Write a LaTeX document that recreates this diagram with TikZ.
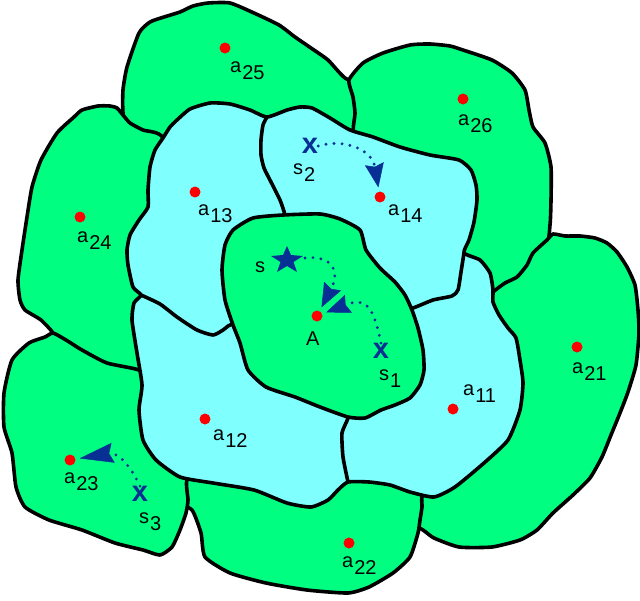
\documentclass[tikz,border=0pt]{standalone}
\usepackage{fontspec}
\setmainfont{Liberation Sans}
\usetikzlibrary{arrows.meta}
\definecolor{grn}{RGB}{0,255,128}
\definecolor{cyn}{RGB}{128,255,255}
\definecolor{navy}{RGB}{8,48,148}
\newcommand\lblsub[2]{#1\kern1pt\raisebox{-7pt}{#2}}
\begin{document}
\begin{tikzpicture}[x=1pt,y=-1pt,
  region/.style={line width=3.6pt, line join=round, draw=black},
  outer/.style={region, fill=grn},
  inner/.style={region, fill=cyn},
  divider/.style={line width=3.6pt, line cap=round, line join=round},
  dot/.style={circle, fill=red, inner sep=0pt, minimum size=11pt},
  lbl/.style={font=\fontsize{20}{20}\selectfont, inner sep=0pt, anchor=base west},
  xmark/.style={font=\fontsize{29}{29}\selectfont\bfseries, text=navy, inner sep=0pt},
  dotarrow/.style={navy, line width=3.2pt, line cap=round, dash pattern=on 0pt off 8pt,
    -{Stealth[length=24pt,width=19pt,inset=3pt,line width=0.5pt]}, shorten >=4pt},
  longarrow/.style={dotarrow, -{Stealth[length=34pt,width=20pt,inset=4pt,line width=0.5pt]}},
]
\useasboundingbox (0,0) rectangle (640,600);
\fill[white] (0,0) rectangle (640,600);

% a25 (top)
\draw[outer] plot[smooth cycle, tension=0.35] coordinates {(123,113) (123,90) (127,67) (139,33) (150,22) (164,17) (180,12) (193,6) (208,3) (230,3) (254,13) (279,25) (295,37) (311,48) (328,60) (345,78) (375,95) (375,145) (250,150) (165,150) (128,128)};
% a24 (left)
\draw[outer] plot[smooth cycle, tension=0.35] coordinates {(74,117) (82,110) (98,106) (110,106) (117,108) (123,115) (130,123) (143,130) (163,138) (175,200) (160,300) (150,365) (139,380) (55,345) (53,333) (41,320) (25,310) (20,300) (18,280) (22,250) (27,217) (32,187) (41,160) (57,133)};
% a26 (top right)
\draw[outer] plot[smooth cycle, tension=0.35] coordinates {(349,80) (363,63) (383,53) (410,45) (430,44) (450,46) (463,50) (492,60) (512,73) (525,90) (529,110) (533,127) (545,143) (551,167) (551,200) (550,225) (545,250) (505,300) (460,262) (400,162) (355,140) (355,113) (353,97)};
% a21 (right)
\draw[outer] plot[smooth cycle, tension=0.35] coordinates {(493,292) (505,283) (517,277) (527,265) (533,253) (547,240) (553,234) (565,236) (580,236) (595,238) (607,243) (617,252) (627,267) (635,285) (638,310) (639,333) (636,365) (628,392) (620,413) (611,435) (602,457) (590,478) (573,495) (553,513) (537,530) (520,540) (492,547) (459,547) (434,538) (423,530) (400,515) (400,480) (480,420) (480,305)};
% a22 (bottom)
\draw[outer] plot[smooth cycle, tension=0.35] coordinates {(430,480) (422,497) (422,507) (420,520) (418,533) (410,557) (393,573) (369,587) (348,593) (307,590) (266,583) (230,573) (205,557) (201,533) (192,510) (175,500) (178,470) (300,470)};
% a23 (bottom left)
\draw[outer] plot[smooth cycle, tension=0.35] coordinates {(53,333) (45,337) (29,343) (12,360) (4,393) (4,427) (12,453) (16,487) (25,507) (49,520) (82,530) (115,543) (143,550) (160,555) (172,547) (180,530) (186,513) (188,500) (187,480) (205,465) (165,385) (139,370) (107,363) (82,350) (66,340)};

% cyan ring (a13, a14, a11, a12)
\draw[inner] plot[smooth cycle, tension=0.35] coordinates {(163,138) (170,127) (177,120) (190,109) (210,103) (230,104) (250,110) (267,117) (287,110) (300,107) (312,108) (330,118) (350,130) (373,137) (400,147) (430,155) (459,160) (471,170) (476,185) (477,200) (474,222) (469,240) (464,253) (480,260) (490,273) (493,290) (493,302) (499,315) (508,328) (516,338) (520,360) (523,383) (520,410) (508,440) (484,463) (455,487) (434,497) (410,492) (390,485) (369,482) (348,482) (338,490) (328,500) (311,507) (287,503) (254,490) (213,483) (180,477) (156,460) (143,440) (139,410) (142,385) (137,353) (132,320) (134,303) (141,295) (133,287) (128,265) (127,250) (130,235) (139,220) (148,207) (148,190) (150,167) (155,150)};
\draw[divider] plot[smooth, tension=0.35] coordinates {(267,117) (263,125) (261,140) (261,155) (264,168) (271,182) (280,200) (285,215) (288,235)};
\draw[divider] plot[smooth, tension=0.35] coordinates {(141,295) (160,304) (177,317) (197,330) (213,335) (223,330) (230,325) (245,322)};
\draw[divider] plot[smooth, tension=0.35] coordinates {(350,400) (348,418) (342,433) (343,457) (348,482)};
\draw[divider] plot[smooth, tension=0.35] coordinates {(464,253) (461,272) (458,290) (452,296) (433,300) (413,308) (395,312)};

% centre region A
\draw[outer] plot[smooth cycle, tension=0.35] coordinates {(233,230) (253,218) (283,215) (320,214) (340,219) (360,230) (366,250) (380,268) (395,282) (405,295) (412,310) (418,328) (423,350) (424,370) (420,385) (410,398) (395,405) (381,410) (365,418) (348,417) (320,407) (295,397) (266,387) (248,370) (240,343) (233,325) (225,300) (222,270) (225,245)};

% points
\node[dot] (a25) at (225,48) {};
\node[dot] (a26) at (463,99) {};
\node[dot] (a13) at (195,192) {};
\node[dot] (a14) at (380,197) {};
\node[dot] (a24) at (80,217) {};
\node[dot] (A) at (317,316) {};
\node[dot] (a21) at (577,347) {};
\node[dot] (a11) at (453,409) {};
\node[dot] (a12) at (205,419) {};
\node[dot] (a23) at (70,460) {};
\node[dot] (a22) at (349,543) {};

% labels
\node[lbl] (la25) at (230,72) {\lblsub{a}{25}};
\node[lbl] (la26) at (458,125) {\lblsub{a}{26}};
\node[lbl] (la13) at (198,215) {\lblsub{a}{13}};
\node[lbl] (la14) at (388,215) {\lblsub{a}{14}};
\node[lbl] (la24) at (77,242) {\lblsub{a}{24}};
\node[lbl] (la21) at (572,373) {\lblsub{a}{21}};
\node[lbl] (la11) at (463,395) {\lblsub{a}{11}};
\node[lbl] (la12) at (213,440) {\lblsub{a}{12}};
\node[lbl] (la23) at (64,483) {\lblsub{a}{23}};
\node[lbl] (la22) at (342,567) {\lblsub{a}{22}};
\node[lbl] (lA) at (306,345) {A};
\node[lbl] (ls) at (255,272) {s};
\node[lbl] (ls1) at (379,380) {\lblsub{s}{1}};
\node[lbl] (ls2) at (293,174) {\lblsub{s}{2}};
\node[lbl] (ls3) at (139,523) {\lblsub{s}{3}};

% start marks
\node[xmark] (s1x) at (381,351) {x};
\node[xmark] (s2x) at (310,146) {x};
\node[xmark] (s3x) at (140,494) {x};
\coordinate (sc) at (287,260);
\fill[navy] (287,246) -- (291,255) -- (303,256) -- (293.5,262) -- (297,272) -- (287,266) -- (277,272) -- (280.5,262) -- (271,256) -- (283,255) -- cycle;
\coordinate (s0) at (305,258);

% arrows
\draw[dotarrow] (s2x.east) .. controls (345,138) and (372,150) .. (a14);
\draw[dotarrow] (s0) .. controls (328,255) and (342,268) .. (A);
\draw[dotarrow] (s1x.north) .. controls (374,310) and (368,296) .. (A);
\draw[longarrow] (s3x.north) .. controls (130,465) and (118,452) .. (a23);
\end{tikzpicture}
\end{document}
